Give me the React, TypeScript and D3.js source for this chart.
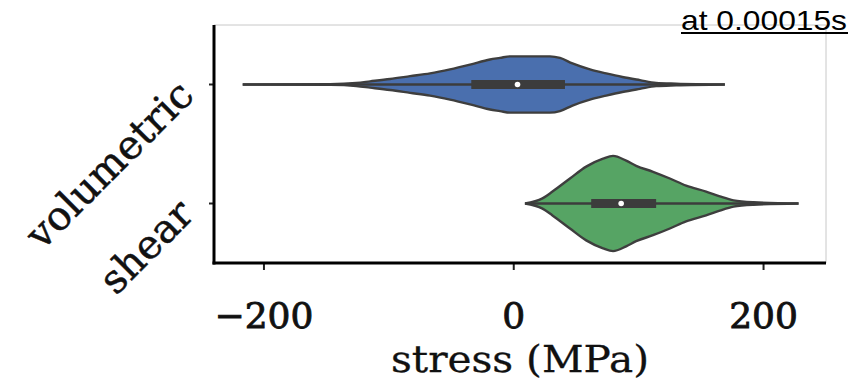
import React from "react";
import * as d3 from "d3";

const categories = ["volumetric", "shear"];

// violin outlines: stress (MPa) and kernel density (1/MPa)
const volumetricStress = [-217, -147, -126, -115, -99, -83, -67, -51, -35, -19, -11, -3, 13, 29, 37, 47, 61, 74, 87, 101, 114, 130, 169];
const volumetricDensity = [0, 0.0001, 0.0004, 0.0008, 0.0014, 0.0021, 0.0028, 0.0038, 0.005, 0.0063, 0.0067, 0.0071, 0.0071, 0.0071, 0.0067, 0.0053, 0.0038, 0.0028, 0.0019, 0.0011, 0.0004, 0.0002, 0];

const shearStress = [9, 23, 31, 45, 58, 71.5, 79.5, 90, 98, 111.5, 125, 138, 154, 165, 176, 192, 228];
const shearDensity = [0, 0.0013, 0.003, 0.0063, 0.0093, 0.0113, 0.012, 0.0108, 0.0095, 0.008, 0.0063, 0.0045, 0.003, 0.0018, 0.0008, 0.0003, 0];

// box statistics per category
const boxQ1 = [-34, 62];
const boxMedian = [3, 86];
const boxQ3 = [41, 114];
const whiskerLow = [-217, 9];
const whiskerHigh = [169, 228];

const fillColors = ["#4a6fae", "#56a464"];
const xTicks = [-200, 0, 200];
const xDomain = [-240, 250];
const titleText = "at 0.00015s";
const xLabel = "stress (MPa)";

const W = 852;
const H = 381;
const left = 214;
const right = 826;
const top = 25;
const bottom = 263;

export default function App() {
  const x = d3.scaleLinear().domain(xDomain).range([left, right]);
  const y = d3.scalePoint<string>().domain(categories).range([top, bottom]).padding(0.5);
  const maxD = d3.max([...volumetricDensity, ...shearDensity]) as number;
  const wScale = d3.scaleLinear().domain([0, maxD]).range([0, y.step() * 0.4]);

  const series = [
    { stress: volumetricStress, dens: volumetricDensity },
    { stress: shearStress, dens: shearDensity },
  ];

  const serif = "'DejaVu Serif', serif";

  return (
    <svg width={W} height={H} style={{ position: "absolute", left: 0, top: 0, background: "#fff" }}>
      <rect x={0} y={0} width={W} height={H} fill="#fff" />
      {/* frame light lines */}
      <line x1={left} x2={right} y1={top} y2={top} stroke="#c8c8c8" strokeWidth={1} />
      <line x1={right} x2={right} y1={top} y2={bottom} stroke="#c8c8c8" strokeWidth={1} />

      {categories.map((c, i) => {
        const cy = y(c) as number;
        const s = series[i];
        const pts = s.stress.map((v, k) => [v, s.dens[k]] as [number, number]);
        const area = d3
          .area<[number, number]>()
          .x((d) => x(d[0]))
          .y0((d) => cy + wScale(d[1]))
          .y1((d) => cy - wScale(d[1]))
          .curve(d3.curveMonotoneX);
        return (
          <g key={c}>
            <path d={area(pts) as string} fill={fillColors[i]} stroke="#3e3e3e" strokeWidth={2.4} />
            <line x1={x(whiskerLow[i])} x2={x(whiskerHigh[i])} y1={cy} y2={cy} stroke="#3c3c3c" strokeWidth={2.4} />
            <line x1={x(boxQ1[i])} x2={x(boxQ3[i])} y1={cy} y2={cy} stroke="#3c3c3c" strokeWidth={9} />
            <circle cx={x(boxMedian[i])} cy={cy} r={2.8} fill="#fff" />
          </g>
        );
      })}

      {/* y ticks and labels */}
      {categories.map((c) => {
        const cy = y(c) as number;
        return (
          <g key={"yt" + c}>
            <line x1={left - 5} x2={left} y1={cy} y2={cy} stroke="#222" strokeWidth={2} />
            <text
              transform={`translate(${left - 28},${cy + 3}) rotate(-45)`}
              textAnchor="end"
              dominantBaseline="central"
              fontFamily={serif}
              fontSize={40}
              fill="#111"
              stroke="#111"
              strokeWidth={0.5}
            >
              {c}
            </text>
          </g>
        );
      })}

      {/* x ticks */}
      {xTicks.map((t) => (
        <g key={"xt" + t}>
          <line x1={x(t)} x2={x(t)} y1={bottom} y2={bottom + 7} stroke="#222" strokeWidth={2} />
          <text x={x(t)} y={328} textAnchor="middle" fontFamily={serif} fontSize={36} fill="#111" stroke="#111" strokeWidth={0.9}>
            {t < 0 ? "\u2212" + Math.abs(t) : String(t)}
          </text>
        </g>
      ))}

      {/* spines */}
      <line x1={left} x2={left} y1={top} y2={bottom + 1.5} stroke="#000" strokeWidth={3} />
      <line x1={left - 1.5} x2={right} y1={bottom} y2={bottom} stroke="#000" strokeWidth={3} />

      <text x={(left + right) / 2} y={372} textAnchor="middle" fontFamily={serif} fontSize={37} fill="#111" stroke="#111" strokeWidth={0.3} textLength={258} lengthAdjust="spacingAndGlyphs">
        {xLabel}
      </text>

      <text x={681} y={30} fontFamily="'Liberation Sans', Arial, sans-serif" fontSize={28} fill="#000" textLength={166} lengthAdjust="spacingAndGlyphs">
        {titleText}
      </text>
      <line x1={681} x2={848} y1={33} y2={33} stroke="#000" strokeWidth={1.8} />
    </svg>
  );
}
